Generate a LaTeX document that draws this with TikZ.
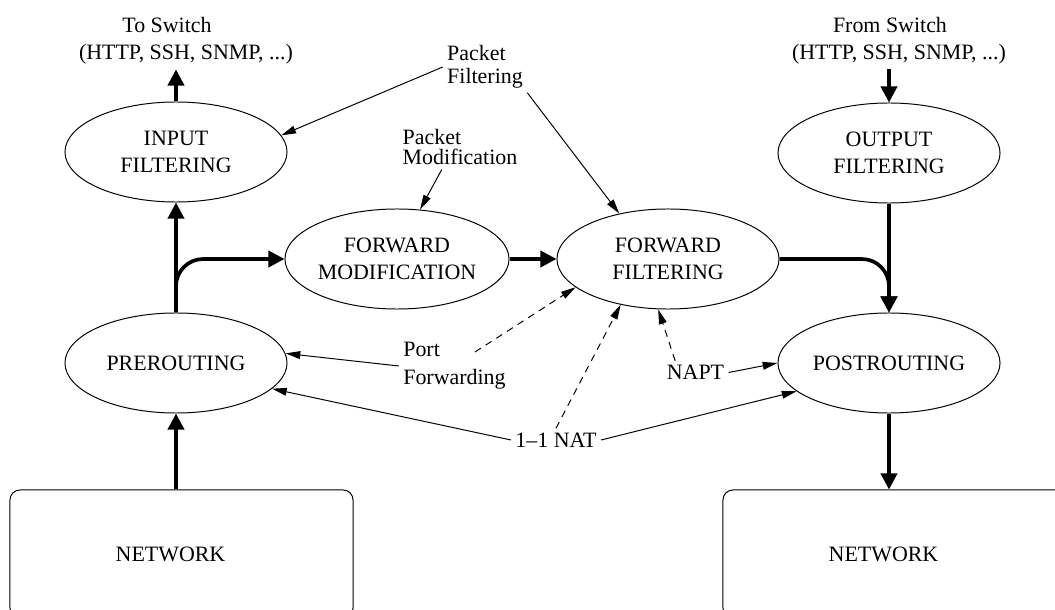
\documentclass[tikz,border=0pt]{standalone}
\usepackage{fontspec}
\setmainfont{Liberation Serif}
\usetikzlibrary{arrows.meta,shapes.geometric}

\begin{document}
\begin{tikzpicture}[x=0.025cm,y=-0.025cm,
  font=\fontsize{15.6}{19.2}\selectfont,
  chain/.style={ellipse,draw,line width=0.7pt,inner sep=0pt,minimum width=5.55cm,minimum height=2.5cm,align=center},
  netbox/.style={rectangle,draw,rounded corners=0.25cm,line width=0.7pt,minimum width=8.575cm,minimum height=3.2cm},
  note/.style={align=left,inner sep=3pt},
  flow/.style={-{Triangle[length=11.5pt,width=11.5pt]},line width=2.6pt},
  hint/.style={-{Triangle[length=10.5pt,width=5.5pt]},line width=0.7pt},
  hintd/.style={hint,dash pattern=on 5pt off 4pt}]
  \useasboundingbox (0,0) rectangle (1055,610);

  % chains
  \node[chain] (inF) at (176,152) {INPUT\\FILTERING};
  \node[chain] (outF) at (889,153) {OUTPUT\\FILTERING};
  \node[chain] (fm) at (397,259) {FORWARD\\MODIFICATION};
  \node[chain] (ff) at (668,259) {FORWARD\\FILTERING};
  \node[chain] (pre) at (176,363) {PREROUTING};
  \node[chain] (post) at (889,363) {POSTROUTING};
  \node[netbox] (netL) at (181.5,554) {NETWORK\hspace*{0.55cm}};
  \node[netbox] (netR) at (894.5,554) {NETWORK\hspace*{0.55cm}};

  % labels
  \node[align=center] (tosw) at (186,41) {To Switch\hspace*{27pt}\\(HTTP, SSH, SNMP, ...)};
  \node[align=center] (fromsw) at (899,41) {From Switch\hspace*{12.8pt}\\(HTTP, SSH, SNMP, ...)};
  \node[note,font=\fontsize{15.6}{16}\selectfont] (pf) at (485,67) {Packet\\Filtering};
  \node[note,font=\fontsize{15.6}{14.7}\selectfont] (pm) at (460,147) {Packet\\Modification};
  \node[note,font=\fontsize{15.6}{19.9}\selectfont] (pfw) at (454.5,366) {Port\\Forwarding};
  \node[note] (nat) at (556,440) {1--1 NAT};
  \node[note] (napt) at (695.5,372.5) {NAPT};
  \coordinate (pfwtip) at (475,352);

  % packet path
  \draw[flow] (netL.north -| pre.south) -- (pre.south);
  \draw[flow] (pre.north) -- (inF.south);
  \draw[flow,rounded corners=0.68cm] (pre.north) |- (fm.west);
  \draw[flow] (inF.north) -- (inF.north |- tosw.south);
  \draw[flow] (fm.east) -- (ff.west);
  \draw[flow,rounded corners=0.68cm] (ff.east) -| (post.north);
  \draw[flow] (outF.north |- fromsw.south) -- (outF.north);
  \draw[flow] (outF.south) -- (post.north);
  \draw[flow] (post.south) -- (post.south |- netR.north);

  % what each chain does
  \draw[hint] (pf.west) -- (inF.9);
  \draw[hint] (pf.south east) -- (ff.137);
  \draw[hint] (pm.231) -- (fm.65);
  \draw[hint] (pfw.west) -- (pre.5);
  \draw[hintd] (pfwtip) -- (ff.197);
  \draw[hint] (nat.west) -- (pre.-15);
  \draw[hint] (nat.east) -- (post.197);
  \draw[hintd] (nat.north) -- (ff.224);
  \draw[hintd] (napt.150) -- (ff.259);
  \draw[hint] (napt.east) -- (post.west);
\end{tikzpicture}
\end{document}
